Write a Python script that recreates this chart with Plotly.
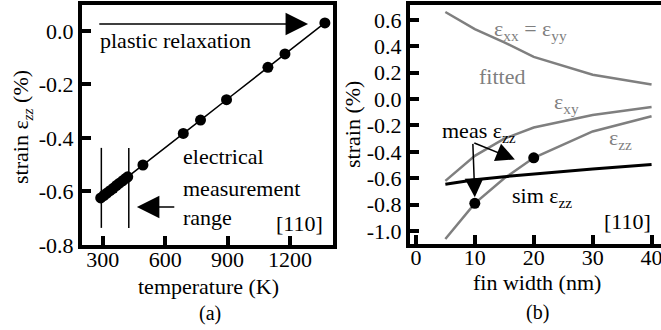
import plotly.graph_objects as go

# ---------------- data: panel (a) ----------------
temperature_K = [290, 305, 320, 335, 350, 365, 380, 395, 410, 420, 493, 687, 770, 895, 1094, 1176, 1368]
strain_zz_a = [-0.624, -0.615, -0.606, -0.597, -0.588, -0.578, -0.569, -0.560, -0.551, -0.545,
               -0.501, -0.383, -0.333, -0.257, -0.136, -0.086, 0.030]
range_T = [293, 425]          # electrical measurement range markers
range_span = [-0.437, -0.736]
x_ticks_a = [300, 600, 900, 1200]
y_ticks_a = [0.0, -0.2, -0.4, -0.6, -0.8]
y_ticktext_a = ["0.0", "-0.2", "-0.4", "-0.6", "-0.8"]

# ---------------- data: panel (b) ----------------
fin_width = [5, 10, 15, 20, 30, 40]
eps_xx_yy = [0.66, 0.53, 0.43, 0.32, 0.185, 0.11]
eps_xy = [-0.62, -0.43, -0.30, -0.215, -0.12, -0.06]
eps_zz_fit = [-1.06, -0.79, -0.60, -0.445, -0.245, -0.13]
sim_eps_zz = [-0.645, -0.612, -0.588, -0.568, -0.530, -0.495]
meas_width = [10, 20]
meas_eps_zz = [-0.79, -0.445]
x_ticks_b = [0, 10, 20, 30, 40]
y_ticks_b = [0.6, 0.4, 0.2, 0.0, -0.2, -0.4, -0.6, -0.8, -1.0]
y_ticktext_b = ["0.6", "0.4", "0.2", "0.0", "-0.2", "-0.4", "-0.6", "-0.8", "-1.0"]

FONT = "Liberation Serif, Times New Roman, serif"
GRAY = "#7f7f7f"
FS = 22

fig = go.Figure()

# panel (a)
fig.add_trace(go.Scatter(x=temperature_K, y=strain_zz_a, mode="lines+markers",
                         line=dict(color="black", width=1.5),
                         marker=dict(color="black", size=11),
                         xaxis="x", yaxis="y", showlegend=False))
for t in range_T:
    fig.add_trace(go.Scatter(x=[t, t], y=range_span, mode="lines",
                             line=dict(color="black", width=1.5),
                             xaxis="x", yaxis="y", showlegend=False))

# panel (b)
for ys, col, w in [(eps_xx_yy, GRAY, 2.5), (eps_xy, GRAY, 2.5), (eps_zz_fit, GRAY, 2.5),
                   (sim_eps_zz, "black", 3)]:
    fig.add_trace(go.Scatter(x=fin_width, y=ys, mode="lines",
                             line=dict(color=col, width=w),
                             xaxis="x2", yaxis="y2", showlegend=False))
fig.add_trace(go.Scatter(x=meas_width, y=meas_eps_zz, mode="markers",
                         marker=dict(color="black", size=11),
                         xaxis="x2", yaxis="y2", showlegend=False))

axis_common = dict(showline=True, linewidth=4, linecolor="black", ticks="inside",
                   ticklen=9, tickwidth=4, tickcolor="black", showgrid=False,
                   zeroline=False, automargin=False, ticklabeloverflow="allow",
                   tickfont=dict(family=FONT, size=FS, color="black"))

W, H = 661, 330
fig.update_layout(
    width=W, height=H, margin=dict(l=0, r=0, t=0, b=0, autoexpand=False),
    paper_bgcolor="white", plot_bgcolor="white",
    xaxis=dict(domain=[82 / W, 333 / W], range=[200, 1407], tickvals=x_ticks_a,
               mirror=True, anchor="y", ticklabelstandoff=-8, **axis_common),
    yaxis=dict(domain=[(H - 245) / H, (H - 5) / H], range=[-0.8, 0.097], tickvals=y_ticks_a,
               ticktext=y_ticktext_a, mirror=True, anchor="x", **axis_common),
    xaxis2=dict(domain=[410 / W, 1.0], range=[-1.0, 41.6], tickvals=x_ticks_b,
                mirror=True, anchor="y2", ticklabelstandoff=-9, **axis_common),
    yaxis2=dict(domain=[(H - 244) / H, (H - 5) / H], range=[-1.098, 0.713], tickvals=y_ticks_b,
                ticktext=y_ticktext_b, mirror=False, anchor="x2", **axis_common),
)

ann = []
def text(x, y, s, xref, yref, color="black", xanchor="left", yanchor="middle", size=FS, angle=0):
    ann.append(dict(x=x, y=y, xref=xref, yref=yref, text=s, showarrow=False,
                    xanchor=xanchor, yanchor=yanchor, textangle=angle,
                    font=dict(family=FONT, size=size, color=color)))

def arrow(x, y, ax, ay, xref, yref, width=1.5, size=3.0):
    ann.append(dict(x=x, y=y, ax=ax, ay=ay, xref=xref, yref=yref, axref=xref, ayref=yref,
                    text="", showarrow=True, arrowhead=2, arrowsize=size, arrowwidth=width,
                    arrowcolor="black"))

# panel (a) texts
arrow(1287, 0.026, 276, 0.026, "x", "y")
text(276, -0.034, "plastic relaxation", "x", "y")
text(676, -0.470, "electrical", "x", "y")
text(676, -0.587, "measurement", "x", "y")
text(676, -0.699, "range", "x", "y")
arrow(464, -0.658, 651, -0.658, "x", "y")
text(1368, -0.718, "[110]", "x", "y", xanchor="right")

# panel (b) texts
text(12.9, 0.525, "ε<sub>xx</sub> = ε<sub>yy</sub>", "x2", "y2", color=GRAY)
text(10.3, 0.17, "fitted", "x2", "y2", color=GRAY)
text(23.1, -0.03, "ε<sub>xy</sub>", "x2", "y2", color=GRAY)
text(32.4, -0.30, "ε<sub>zz</sub>", "x2", "y2", color=GRAY)
text(4.1, -0.25, "meas ε<sub>zz</sub>", "x2", "y2")
text(15.9, -0.74, "sim ε<sub>zz</sub>", "x2", "y2")
text(40.2, -0.925, "[110]", "x2", "y2", xanchor="right")
arrow(10.0, -0.743, 9.66, -0.328, "x2", "y2", size=2.5)
arrow(16.8, -0.457, 9.66, -0.328, "x2", "y2", size=2.5)

# axis titles and panel labels (paper coords)
text(22 / W, 1 - 127 / H, "strain ε<sub><i>zz</i></sub> (%)", "paper", "paper",
     xanchor="center", angle=-90)
text(352 / W, 1 - 125 / H, "strain (%)", "paper", "paper", xanchor="center", angle=-90)
text(208 / W, 1 - 286 / H, "temperature (K)", "paper", "paper", xanchor="center")
text(537 / W, 1 - 282 / H, "fin width (nm)", "paper", "paper", xanchor="center")
text(210 / W, 1 - 313 / H, "(a)", "paper", "paper", xanchor="center", size=20)
text(537 / W, 1 - 312 / H, "(b)", "paper", "paper", xanchor="center", size=20)

fig.update_layout(annotations=ann)
fig.write_html("out.html")
